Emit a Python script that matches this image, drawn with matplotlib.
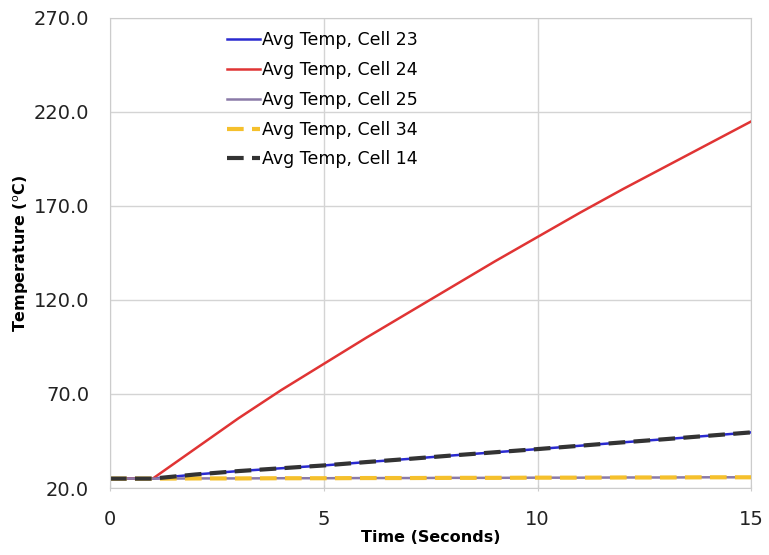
import matplotlib.pyplot as plt

time_s = [0, 1, 2, 3, 4, 5, 6, 7, 8, 9, 10, 11, 12, 13, 14, 15]
cell_23 = [25.0, 25.0, 27.2, 29.0, 30.5, 32.0, 33.8, 35.5, 37.3, 39.0, 40.7, 42.5, 44.3, 46.0, 47.8, 49.6]
cell_24 = [25.0, 25.0, 41.0, 57.0, 72.0, 86.0, 100.0, 113.5, 127.0, 140.5, 153.5, 166.5, 179.0, 191.0, 203.0, 215.0]
cell_25 = [25.0, 25.0, 25.1, 25.1, 25.2, 25.2, 25.3, 25.3, 25.4, 25.4, 25.5, 25.5, 25.6, 25.6, 25.7, 25.7]
cell_34 = [25.0, 25.0, 25.1, 25.1, 25.2, 25.2, 25.3, 25.3, 25.4, 25.4, 25.5, 25.5, 25.6, 25.6, 25.7, 25.7]
cell_14 = [25.0, 25.0, 27.2, 29.0, 30.5, 32.0, 33.8, 35.5, 37.3, 39.0, 40.7, 42.5, 44.3, 46.0, 47.8, 49.6]

fig = plt.figure(figsize=(7.69, 5.55), dpi=100)
ax = fig.add_axes([0.143, 0.1207, 0.834, 0.847])

ax.plot(time_s, cell_23, color='#2a2ad0', lw=1.8, label='Avg Temp, Cell 23')
ax.plot(time_s, cell_24, color='#e03434', lw=1.8, label='Avg Temp, Cell 24')
ax.plot(time_s, cell_25, color='#8a7aa8', lw=1.8, label='Avg Temp, Cell 25')
ax.plot(time_s, cell_34, color='#f5c02c', lw=3, linestyle=(0, (4, 2)), label='Avg Temp, Cell 34')
ax.plot(time_s, cell_14, color='#333333', lw=3, linestyle=(0, (4, 2)), label='Avg Temp, Cell 14')

ax.set_xlim(0, 15)
ax.set_ylim(20, 270)
ax.set_xticks([0, 5, 10, 15])
ax.set_yticks([20, 70, 120, 170, 220, 270])
ax.set_yticklabels([f'{v:.1f}' for v in [20, 70, 120, 170, 220, 270]])
ax.tick_params(labelsize=14, colors='#222222', length=0, pad=15)
ax.tick_params(axis='x', length=5, color='#cccccc', direction='inout', pad=13)

ax.grid(True, color='#d4d4d4', lw=1)
for s in ax.spines.values():
    s.set_color('#cccccc')

ax.set_xlabel('Time (Seconds)', fontsize=11.5, fontweight='bold', labelpad=1)
ax.set_ylabel('Temperature ($^{\\mathrm{o}}$C)', fontsize=11.5, fontweight='bold', labelpad=2)

ax.legend(loc='upper left', bbox_to_anchor=(0.158, 1.005), frameon=False, fontsize=12.5,
          handlelength=1.9, handletextpad=0.1, labelspacing=0.68)

fig.savefig('out.png', dpi=100)
